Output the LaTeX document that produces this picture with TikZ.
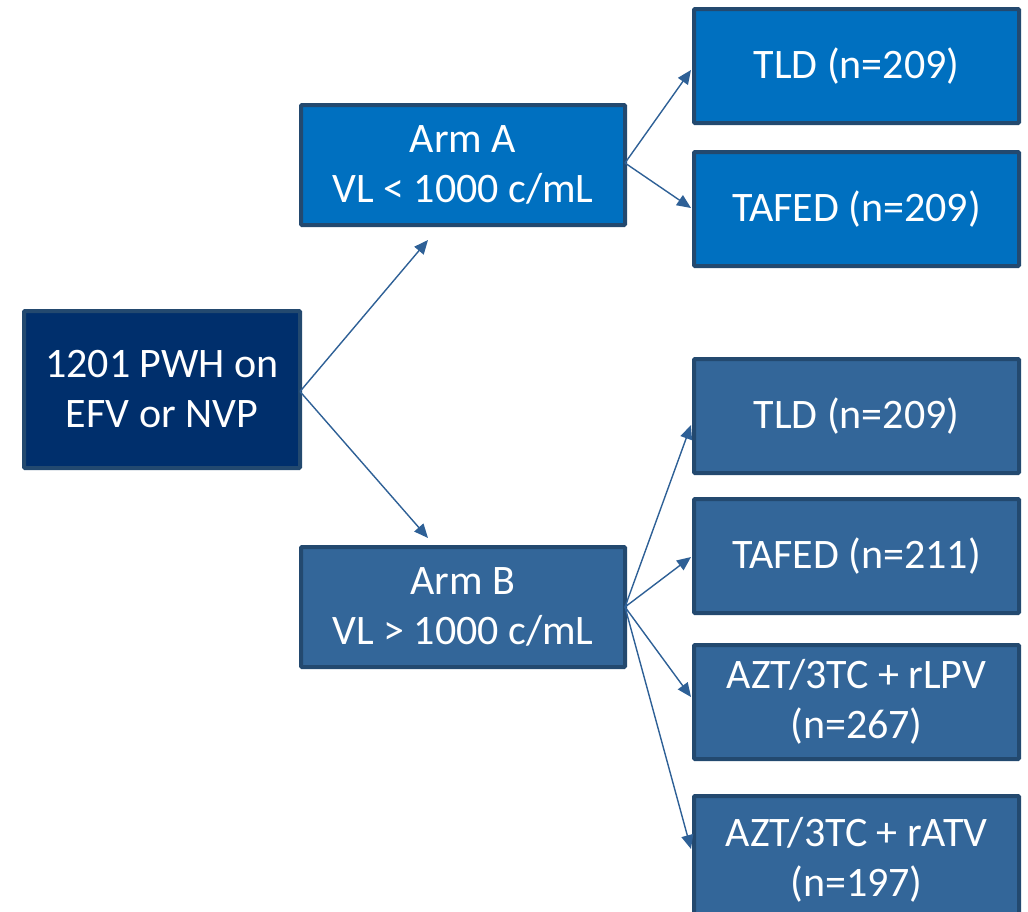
\documentclass[tikz,border=0pt]{standalone}
\usepackage{fontspec}
\setmainfont{Carlito}
\usetikzlibrary{arrows.meta,calc}
\definecolor{navyfill}{HTML}{002F6C}
\definecolor{armAfill}{HTML}{0070C0}
\definecolor{armBfill}{HTML}{336699}
\definecolor{boxline}{HTML}{23496F}
\definecolor{arrowcol}{HTML}{2E6096}
\tikzset{
  box/.style={draw=boxline, line width=4pt, text=white, align=center,
    font=\fontsize{42}{50}\selectfont, inner sep=0pt, rounded corners=1pt},
  rootbox/.style={box, fill=navyfill, minimum width=276pt, minimum height=157pt},
  armAbox/.style={box, fill=armAfill, minimum width=324pt, minimum height=120pt},
  armBbox/.style={box, fill=armBfill, minimum width=324pt, minimum height=120pt},
  leafA/.style={box, fill=armAfill, minimum width=325pt, minimum height=114pt},
  leafB/.style={box, fill=armBfill, minimum width=325pt, minimum height=114pt},
  conn/.style={draw=arrowcol, line width=1.4pt, -{Triangle[length=14pt,width=12pt]}}
}
\begin{document}
\begin{tikzpicture}[x=1pt,y=-1pt]
\useasboundingbox (0,0) rectangle (1028,911);
\begin{scope}
\clip (0,0) rectangle (1028,911);
\node[rootbox] (root) at (162,389.5) {1201 PWH on\\EFV or NVP};
\node[armAbox] (armA) at (463,165) {Arm A\\VL < 1000 c/mL};
\node[armBbox] (armB) at (463,607) {Arm B\\VL > 1000 c/mL};
\node[leafA] (tldA) at (856.5,66) {TLD (n=209)};
\node[leafA] (tafA) at (856.5,209) {TAFED (n=209)};
\node[leafB] (tldB) at (856.5,416) {TLD (n=209)};
\node[leafB] (tafB) at (856.5,556) {TAFED (n=211)};
\node[leafB] (lpv) at (856.5,702) {AZT/3TC + rLPV\\(n=267)};
\node[leafB, minimum height=128pt] (atv) at (856.5,860) {AZT/3TC + rATV\\(n=197)};

\coordinate (rs) at ($(root.east)+(-2,2)$);
\coordinate (tA) at ($(armA.south)+(-35,13)$);
\coordinate (tB) at ($(armB.north)+(-35,-7)$);
\coordinate (aS) at ($(armA.east)+(-2,-2)$);
\coordinate (bS) at ($(armB.east)+(-2,0)$);

\draw[conn] (rs) -- (tA);
\draw[conn] (rs) -- (tB);
\draw[conn] (aS) -- ($(tldA.west)+(-1,4)$);
\draw[conn] (aS) -- ($(tafA.west)+(-1,-1)$);
\draw[conn] (bS) -- ($(tldB.west)+(-1,9)$);
\draw[conn] (bS) -- ($(tafB.west)+(-1,1)$);
\draw[conn] (bS) -- ($(lpv.west)+(-1,-5)$);
\draw[conn] (bS) -- ($(atv.west)+(-1,-11)$);
\end{scope}
\end{tikzpicture}
\end{document}
